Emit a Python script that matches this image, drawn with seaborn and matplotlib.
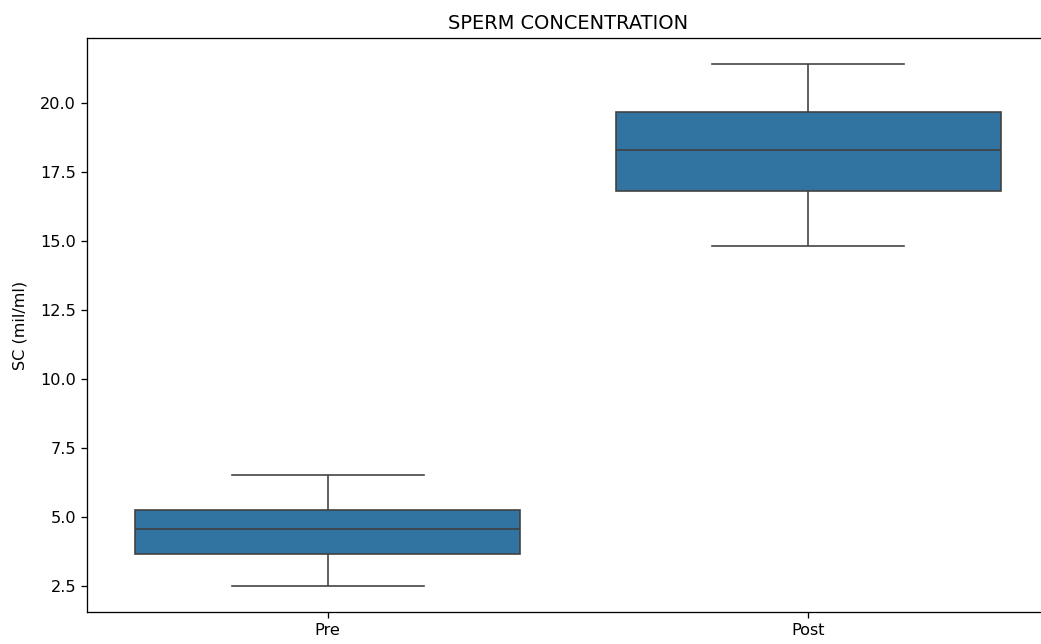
import matplotlib
matplotlib.use("Agg")
import matplotlib.pyplot as plt
import pandas as pd
import seaborn as sns

# Sperm concentration samples (mil/ml) before and after treatment
phases = ["Pre", "Post"]
pre_sc = [2.50, 3.64, 4.55, 5.23, 6.50]
post_sc = [14.83, 16.81, 18.30, 19.66, 21.40]

df = pd.DataFrame({
    "Phase": [phases[0]] * len(pre_sc) + [phases[1]] * len(post_sc),
    "SC": pre_sc + post_sc,
})

DPI = 116.5
fig = plt.figure(figsize=(1041 / DPI, 644 / DPI), dpi=DPI)
ax = fig.add_axes([0.0839, 0.0502, 0.9234, 0.8904])

sns.boxplot(data=df, x="Phase", y="SC", order=phases, ax=ax)

ax.set_title("SPERM CONCENTRATION")
ax.set_xlabel("")
ax.set_ylabel("SC (mil/ml)", labelpad=8)

fig.savefig("out.png", dpi=DPI)
